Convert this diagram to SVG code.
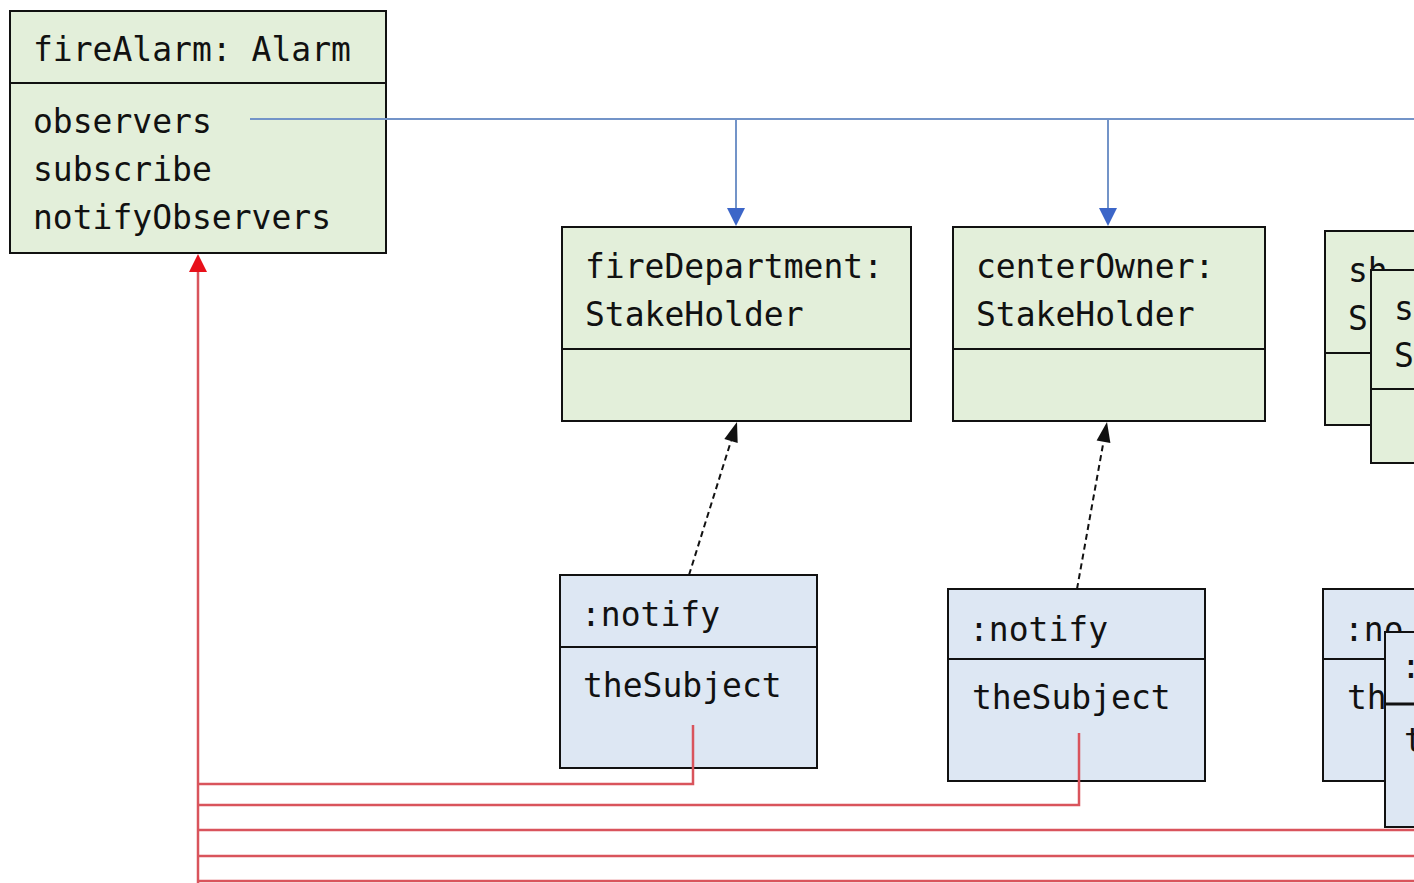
<svg xmlns="http://www.w3.org/2000/svg" width="1414" height="883" viewBox="0 0 1414 883">
<style>
.g{fill:#e3efda;stroke:#111;stroke-width:2}
.b{fill:#dde7f3;stroke:#111;stroke-width:2}
.d{stroke:#111;stroke-width:2;fill:none}
.t{font-family:"DejaVu Sans Mono","Liberation Mono",monospace;font-size:33px;fill:#111}
.blue{stroke:#7394c8;stroke-width:2;fill:none}
.red{stroke:#d9545c;stroke-width:2.5;fill:none}
.dash{stroke:#111;stroke-width:2;stroke-dasharray:6 4;fill:none}
.hb{fill:#3c66c8}
.hr{fill:#e8101a}
.hk{fill:#111}
</style>
<rect width="1414" height="883" fill="#fff"/>

<g id="fireAlarm">
<rect class="g" x="10" y="11" width="376" height="242"/>
<path class="d" d="M10,83 H386"/>
<text class="t" x="33" y="61">fireAlarm: Alarm</text>
<text class="t" x="33" y="133">observers</text>
<text class="t" x="33" y="181">subscribe</text>
<text class="t" x="33" y="229">notifyObservers</text>
</g>

<g id="fireDepartment">
<rect class="g" x="562" y="227" width="349" height="194"/>
<path class="d" d="M562,349 H911"/>
<text class="t" x="585" y="278">fireDepartment:</text>
<text class="t" x="585" y="326">StakeHolder</text>
</g>

<g id="centerOwner">
<rect class="g" x="953" y="227" width="312" height="194"/>
<path class="d" d="M953,349 H1265"/>
<text class="t" x="976" y="278">centerOwner:</text>
<text class="t" x="976" y="326">StakeHolder</text>
</g>

<g id="stakeholder3">
<rect class="g" x="1325" y="231" width="120" height="194"/>
<path class="d" d="M1325,353 H1445"/>
<text class="t" x="1348" y="282">sh</text>
<text class="t" x="1348" y="330">S</text>
</g>

<g id="stakeholder4">
<rect class="g" x="1371" y="270" width="80" height="193"/>
<path class="d" d="M1371,389 H1451"/>
<text class="t" x="1394" y="320">s</text>
<text class="t" x="1394" y="367">S</text>
</g>

<g id="notify1">
<rect class="b" x="560" y="575" width="257" height="193"/>
<path class="d" d="M560,647 H817"/>
<text class="t" x="581" y="626">:notify</text>
<text class="t" x="583" y="697">theSubject</text>
</g>

<g id="notify2">
<rect class="b" x="948" y="589" width="257" height="192"/>
<path class="d" d="M948,659 H1205"/>
<text class="t" x="969" y="641">:notify</text>
<text class="t" x="972" y="709">theSubject</text>
</g>

<g id="notify3">
<rect class="b" x="1323" y="589" width="257" height="192"/>
<path class="d" d="M1323,659 H1580"/>
<text class="t" x="1344" y="641">:no</text>
<text class="t" x="1347" y="709">th</text>
</g>

<g id="notify4">
<rect class="b" x="1385" y="632" width="257" height="195"/>
<path class="d" d="M1385,704 H1642" style="stroke-width:3"/>
<text class="t" x="1401" y="678">:</text>
<text class="t" x="1404" y="752">t</text>
</g>

<g id="connectors">
<path class="blue" d="M250,119 H1414"/>
<path class="blue" d="M736,119 V210"/>
<path class="blue" d="M1108,119 V210"/>
<path class="hb" d="M727,208 L745,208 L736,226 z"/>
<path class="hb" d="M1099,208 L1117,208 L1108,226 z"/>
<path class="red" d="M198,883 V262"/>
<path class="hr" d="M189,272 L207,272 L198,254 z"/>
<path class="red" d="M198,784 H693 V725"/>
<path class="red" d="M198,805 H1079 V733"/>
<path class="red" d="M198,830 H1414"/>
<path class="red" d="M198,856 H1414"/>
<path class="red" d="M198,881 H1414"/>
<path class="dash" d="M689,575 L731,441"/>
<path class="hk" d="M724.3,438.9 L737.7,443.1 L737,422 z"/>
<path class="dash" d="M1077,589 L1103.5,441.7"/>
<path class="hk" d="M1096.6,440.5 L1110.4,442.9 L1107,422 z"/>
</g>
</svg>
